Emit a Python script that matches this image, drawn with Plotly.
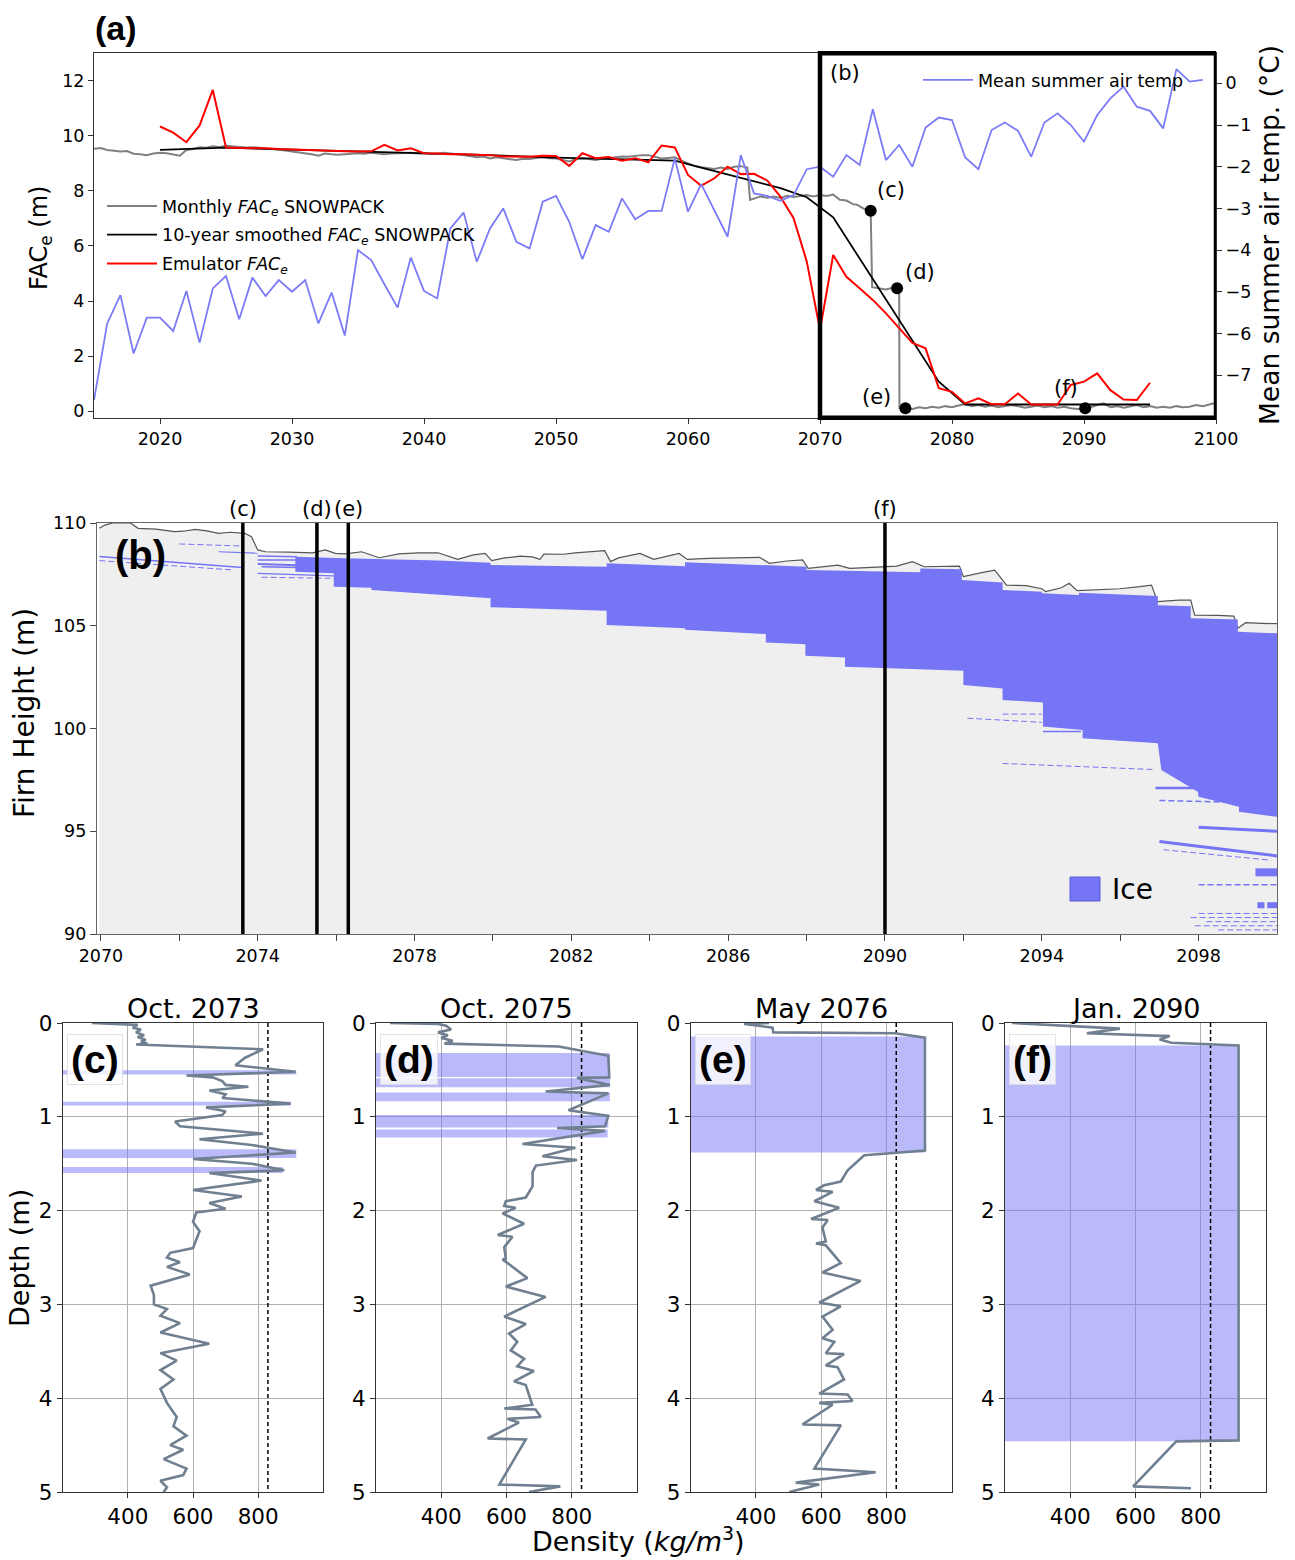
import plotly.graph_objects as go

W, H = 1295, 1560
FONT = "DejaVu Sans"
BOLD = "Liberation Sans"


def px(x):
    return x / W


def py(y):
    return 1 - y / H


# ---------------- Panel (a) data ----------------
temp_years = list(range(2015, 2100))
temp_vals = [-7.6, -5.76, -5.08, -6.48, -5.62, -5.62, -5.94, -4.98, -6.22, -4.92,
             -4.62, -5.66, -4.66, -5.10, -4.72, -5.00, -4.72, -5.76, -5.02, -6.05,
             -4.00, -4.24, -4.82, -5.38, -4.18, -4.98, -5.16, -3.48, -3.10, -4.28,
             -3.48, -3.00, -3.80, -3.96, -2.84, -2.70, -3.32, -4.22, -3.40, -3.56,
             -2.76, -3.26, -3.06, -3.06, -1.80, -3.08, -2.42, -3.05, -3.68, -1.72,
             -2.64, -2.70, -2.82, -2.68, -2.06, -2.00, -2.24, -1.72, -1.96, -0.62,
             -1.84, -1.48, -2.00, -1.06, -0.82, -0.88, -1.78, -2.06, -1.12, -0.94,
             -1.14, -1.76, -0.94, -0.72, -1.00, -1.40, -0.76, -0.36, -0.08, -0.56,
             -0.66, -1.08, 0.34, 0.04, 0.08]

emu_years = list(range(2020, 2096))
emu_vals = [10.34, 10.12, 9.77, 10.38, 11.67, 9.58, 9.56, 9.56, 9.55, 9.52,
            9.50, 9.48, 9.46, 9.45, 9.44, 9.43, 9.44, 9.67, 9.47, 9.55,
            9.37, 9.36, 9.33, 9.33, 9.31, 9.30, 9.25, 9.25, 9.24, 9.28,
            9.27, 8.91, 9.37, 9.19, 9.23, 9.10, 9.19, 9.04, 9.65, 9.58,
            8.58, 8.19, 8.46, 8.88, 8.61, 8.62, 8.38, 7.79, 7.01, 5.43,
            2.95, 5.67, 4.88, 4.46, 4.04, 3.55, 3.01, 2.48, 2.28, 0.83,
            0.70, 0.28, 0.46, 0.25, 0.25, 0.64, 0.24, 0.24, 0.24, 0.95,
            1.07, 1.37, 0.76, 0.42, 0.40, 1.03]

smooth_years = [2020, 2025, 2030, 2035, 2040, 2045, 2050, 2055, 2059, 2061, 2063,
                2065, 2067, 2069, 2070, 2071, 2079, 2081, 2095]
smooth_vals = [9.49, 9.57, 9.50, 9.44, 9.38, 9.30, 9.21, 9.15, 9.10, 8.85, 8.60,
               8.35, 8.10, 7.77, 7.40, 7.04, 1.07, 0.24, 0.24]

monthly_t = [2015.0, 2015.5, 2016.0, 2016.5, 2017.0, 2017.5, 2018.0, 2018.5, 2019.0, 2019.5,
             2020.0, 2020.5, 2021.0, 2021.5, 2022.0, 2022.5, 2023.0, 2023.5, 2024.0, 2024.5,
             2025.0, 2025.5, 2026.0, 2026.5, 2027.0, 2027.5, 2028.0, 2028.5, 2029.0, 2029.5,
             2030.0, 2030.5, 2031.0, 2031.5, 2032.0, 2032.5, 2033.0, 2033.5, 2034.0, 2034.5,
             2035.0, 2035.5, 2036.0, 2036.5, 2037.0, 2037.5, 2038.0, 2038.5, 2039.0, 2039.5,
             2040.0, 2040.5, 2041.0, 2041.5, 2042.0, 2042.5, 2043.0, 2043.5, 2044.0, 2044.5,
             2045.0, 2045.5, 2046.0, 2046.5, 2047.0, 2047.5, 2048.0, 2048.5, 2049.0, 2049.5,
             2050.0, 2050.5, 2051.0, 2051.5, 2052.0, 2052.5, 2053.0, 2053.5, 2054.0, 2054.5,
             2055.0, 2055.5, 2056.0, 2056.5, 2057.0, 2057.5, 2058.0, 2058.5, 2059.0, 2059.5,
             2060.0, 2060.5, 2061.0, 2061.5, 2062.0, 2062.5, 2063.0, 2063.5, 2064.0, 2064.5,
             2064.7, 2065.0, 2065.5, 2066.0, 2066.5, 2067.0, 2067.5, 2068.0, 2068.5, 2069.0,
             2069.5, 2070.0, 2070.5, 2071.0, 2071.5, 2072.0, 2072.5, 2072.8, 2073.3, 2073.84,
             2073.95, 2074.5, 2075.0, 2075.5, 2075.84, 2076.0, 2076.02, 2076.47, 2077.0, 2077.5,
             2078.0, 2078.5, 2079.0, 2079.5, 2080.0, 2080.5, 2081.0, 2081.5, 2082.0, 2082.5,
             2083.0, 2083.5, 2084.0, 2084.5, 2085.0, 2085.5, 2086.0, 2086.5, 2087.0, 2087.5,
             2088.0, 2088.5, 2089.0, 2089.5, 2090.0, 2090.5, 2091.0, 2091.5, 2092.0, 2092.5,
             2093.0, 2093.5, 2094.0, 2094.5, 2095.0, 2095.5, 2096.0, 2096.5, 2097.0, 2097.5,
             2098.0, 2098.5, 2099.0, 2099.5, 2100.0]
monthly_v = [9.53, 9.56, 9.49, 9.47, 9.43, 9.45, 9.35, 9.33, 9.30, 9.36,
             9.39, 9.37, 9.33, 9.28, 9.49, 9.52, 9.59, 9.57, 9.62, 9.60,
             9.64, 9.62, 9.62, 9.58, 9.59, 9.57, 9.55, 9.52, 9.49, 9.47,
             9.43, 9.40, 9.37, 9.33, 9.28, 9.36, 9.33, 9.31, 9.33, 9.36,
             9.37, 9.35, 9.39, 9.36, 9.33, 9.36, 9.37, 9.40, 9.39, 9.36,
             9.37, 9.34, 9.35, 9.39, 9.37, 9.33, 9.30, 9.26, 9.22, 9.25,
             9.18, 9.22, 9.18, 9.15, 9.12, 9.17, 9.16, 9.20, 9.22, 9.19,
             9.18, 9.12, 9.07, 9.15, 9.18, 9.16, 9.12, 9.17, 9.18, 9.22,
             9.25, 9.24, 9.27, 9.30, 9.30, 9.24, 9.18, 9.20, 9.22, 9.10,
             9.00, 8.90, 8.86, 8.82, 8.80, 8.85, 8.80, 8.88, 8.90, 8.85,
             7.67, 7.72, 7.80, 7.75, 7.80, 7.74, 7.82, 7.78, 7.82, 7.85,
             7.80, 7.85, 7.82, 7.87, 7.68, 7.65, 7.52, 7.50, 7.36, 7.28,
             4.50, 4.47, 4.42, 4.48, 4.46, 4.46, 0.12, 0.10, 0.08, 0.14,
             0.10, 0.16, 0.12, 0.18, 0.14, 0.20, 0.26, 0.18, 0.22, 0.16,
             0.20, 0.14, 0.18, 0.22, 0.18, 0.12, 0.16, 0.20, 0.14, 0.18,
             0.12, 0.16, 0.10, 0.08, 0.10, 0.14, 0.22, 0.28, 0.14, 0.18,
             0.12, 0.18, 0.22, 0.14, 0.18, 0.12, 0.16, 0.12, 0.18, 0.14,
             0.16, 0.22, 0.18, 0.24, 0.30]

profile_labels = ["(c)", "(d)", "(e)", "(f)"]
marker_years = [2073.84, 2075.84, 2076.47, 2090.09]
marker_fac = [7.28, 4.46, 0.10, 0.10]

# ---------------- Panel (b) data ----------------
surf_t = [2069.96, 2070.1, 2070.3, 2070.75, 2070.95, 2071.4, 2071.88, 2072.1, 2072.4, 2072.7,
          2073.0, 2073.3, 2073.67, 2073.84, 2074.0, 2074.2, 2074.8, 2075.4, 2075.72, 2075.98,
          2076.23, 2076.65, 2077.1, 2077.6, 2078.1, 2078.6, 2079.1, 2079.5, 2079.8, 2079.97,
          2080.3, 2080.7, 2081.0, 2081.2, 2081.3, 2081.8, 2082.1, 2082.85, 2083.0, 2083.2,
          2083.75, 2084.1, 2084.75, 2084.96, 2085.5, 2086.3, 2086.8, 2087.05, 2087.5, 2087.9,
          2088.04, 2088.8, 2089.1, 2089.8, 2090.3, 2090.7, 2091.0, 2091.9, 2092.0, 2092.5,
          2092.8, 2093.1, 2093.6, 2094.0, 2094.1, 2094.5, 2094.7, 2094.9, 2095.5, 2096.0,
          2096.5, 2096.8, 2096.95, 2097.5, 2097.8, 2097.9, 2098.5, 2098.9, 2099.0, 2099.2,
          2099.6, 2100.0]
surf_h = [109.74, 109.9, 110.0, 110.0, 109.74, 109.7, 109.58, 109.6, 109.69, 109.62,
          109.5, 109.55, 109.5, 109.33, 108.69, 108.6, 108.58, 108.55, 108.69, 108.52,
          108.5, 108.6, 108.31, 108.5, 108.55, 108.55, 108.23, 108.45, 108.52, 108.17,
          108.3, 108.39, 108.35, 108.23, 108.49, 108.48, 108.55, 108.65, 108.12, 108.3,
          108.52, 108.23, 108.52, 108.23, 108.28, 108.3, 108.33, 108.04, 108.15, 108.2,
          107.79, 107.95, 107.79, 107.85, 107.9, 108.12, 107.87, 107.9, 107.39, 107.6,
          107.71, 106.98, 106.95, 106.8, 106.66, 106.85, 107.07, 106.71, 106.75, 106.8,
          106.9, 106.98, 106.17, 106.25, 106.25, 105.52, 105.5, 105.47, 104.88, 105.15,
          105.12, 105.1]

ice_top_t = [2074.96, 2076.23, 2078.6, 2079.94, 2079.94, 2082.9, 2082.9, 2084.9, 2084.9,
             2086.9, 2088.0, 2088.0, 2089.1, 2090.9, 2090.9, 2091.96, 2091.96, 2093.0,
             2093.0, 2094.0, 2094.0, 2094.95, 2094.95, 2096.96, 2096.96, 2097.8, 2097.8,
             2099.0, 2099.0, 2100.0]
ice_top_h = [108.36, 108.28, 108.17, 108.07, 107.96, 107.87, 108.04, 107.90, 108.09,
             107.96, 107.87, 107.71, 107.66, 107.60, 107.79, 107.75, 107.23, 107.10,
             106.74, 106.66, 106.58, 106.50, 106.60, 106.45, 106.00, 105.95, 105.36,
             105.30, 104.71, 104.63]
ice_bot_t = [2074.96, 2075.94, 2075.94, 2076.9, 2076.9, 2078.6, 2079.94, 2079.94, 2082.9,
             2082.9, 2084.9, 2084.9, 2086.96, 2086.96, 2087.97, 2087.97, 2088.98, 2088.98,
             2092.0, 2092.0, 2093.0, 2093.0, 2094.03, 2094.03, 2095.04, 2095.04, 2096.96,
             2097.05, 2097.98, 2098.0, 2099.03, 2099.03, 2100.0]
ice_bot_h = [107.63, 107.55, 106.90, 106.85, 106.74, 106.53, 106.34, 105.90, 105.73,
             105.04, 104.88, 104.80, 104.60, 104.19, 104.10, 103.54, 103.45, 103.00,
             102.81, 102.12, 101.95, 101.39, 101.26, 100.10, 99.93, 99.52, 99.28,
             97.98, 96.92, 96.68, 96.19, 95.95, 95.70]

# thin ice lenses: start time, end time, start height, end height, thickness, dashed
lens_t0 = [2069.96, 2069.96, 2072.0, 2073.0, 2074.0, 2074.0, 2074.0, 2074.1, 2074.0, 2074.1,
           2092.1, 2093.0, 2094.03, 2093.0, 2096.9, 2097.0, 2098.0, 2097.0, 2097.1, 2099.45,
           2098.0, 2099.5, 2099.75, 2098.0, 2097.8, 2098.2, 2097.9, 2098.5]
lens_t1 = [2073.6, 2073.4, 2073.6, 2074.0, 2075.0, 2075.0, 2075.0, 2076.0, 2076.3, 2076.3,
           2094.0, 2094.0, 2095.0, 2096.9, 2097.98, 2099.0, 2100.0, 2100.0, 2099.8, 2100.0,
           2100.0, 2099.68, 2100.0, 2100.0, 2100.0, 2100.0, 2100.0, 2100.0]
lens_h0 = [108.37, 108.17, 108.98, 108.60, 108.39, 108.20, 108.00, 107.87, 107.55, 107.36,
           100.50, 100.70, 99.85, 98.30, 97.10, 96.50, 95.20, 94.50, 94.10, 93.00,
           92.40, 91.40, 91.40, 91.00, 90.80, 90.60, 90.40, 90.20]
lens_h1 = [107.84, 107.71, 108.88, 108.53, 108.36, 108.20, 107.95, 107.80, 107.40, 107.30,
           100.30, 100.70, 99.85, 98.00, 97.10, 96.40, 95.00, 93.80, 93.60, 93.00,
           92.40, 91.40, 91.40, 91.00, 90.80, 90.60, 90.40, 90.20]
lens_w = [1.5, 1.0, 1.0, 1.2, 1.5, 1.5, 2.0, 1.5, 1.2, 1.0,
          1.0, 1.0, 1.5, 1.0, 2.5, 1.5, 3.0, 3.0, 1.0, 8.0,
          1.5, 6.0, 6.0, 1.0, 1.0, 1.0, 1.0, 1.0]
lens_dash = [False, True, True, False, False, False, False, False, False, True,
             True, True, False, True, False, True, False, False, True, False,
             True, False, False, True, True, True, True, True]

line_years_b = [2073.62, 2075.51, 2076.31, 2090.0]

# ---------------- Panels (c)-(f) data ----------------
profile_titles = ["Oct. 2073", "Oct. 2075", "May 2076", "Jan. 2090"]
ICE_DENSITY = 830

prof_c_depth = [0.00, 0.02, 0.05, 0.07, 0.10, 0.13, 0.15, 0.18, 0.20, 0.22, 0.23, 0.25, 0.28,
                0.37, 0.45, 0.52, 0.56, 0.58, 0.62, 0.66, 0.68, 0.72, 0.76, 0.80, 0.86, 0.90,
                0.94, 0.98, 1.05, 1.10, 1.18, 1.24, 1.30, 1.38, 1.45, 1.50, 1.57, 1.60, 1.68,
                1.78, 1.85, 1.92, 1.98, 2.02, 2.12, 2.22, 2.40, 2.45, 2.50, 2.55, 2.60, 2.68,
                2.80, 2.90, 3.00, 3.05, 3.12, 3.20, 3.30, 3.42, 3.52, 3.60, 3.70, 3.80, 3.90,
                4.05, 4.20, 4.30, 4.40, 4.50, 4.55, 4.65, 4.75, 4.82, 4.88, 4.95, 5.00]
prof_c_rho = [290, 430, 415, 440, 425, 450, 430, 455, 440, 460, 425, 600, 815,
              760, 730, 915, 580, 660, 690, 700, 770, 650, 700, 690, 900, 640,
              700, 690, 545, 560, 815, 620, 780, 915, 600, 780, 880, 650, 810,
              600, 750, 650, 700, 610, 600, 620, 600, 530, 520, 560, 520, 590,
              470, 480, 480, 520, 500, 560, 500, 650, 500, 550, 500, 540, 500,
              520, 550, 540, 580, 530, 570, 510, 580, 570, 500, 520, 510]
prof_d_depth = [0.00, 0.01, 0.03, 0.07, 0.10, 0.13, 0.16, 0.19, 0.22, 0.25, 0.35, 0.58, 0.585,
                0.66, 0.73, 0.75, 0.93, 0.99, 1.10, 1.12, 1.15, 1.29, 1.33, 1.42, 1.46, 1.52,
                1.59, 1.74, 1.86, 1.90, 1.95, 1.97, 2.03, 2.14, 2.26, 2.28, 2.39, 2.51, 2.52,
                2.72, 2.81, 2.92, 3.13, 3.21, 3.31, 3.40, 3.49, 3.58, 3.66, 3.71, 3.82, 3.86,
                4.07, 4.11, 4.12, 4.20, 4.22, 4.26, 4.43, 4.44, 4.92, 4.94, 5.00]
prof_d_rho = [243, 390, 415, 430, 390, 420, 400, 435, 410, 760, 912, 915, 816,
              917, 720, 912, 790, 912, 902, 755, 902, 649, 811, 710, 816, 690,
              680, 680, 659, 598, 593, 628, 588, 654, 573, 618, 593, 598, 588,
              664, 598, 720, 593, 659, 608, 633, 613, 654, 633, 684, 623, 659,
              679, 593, 689, 705, 603, 638, 542, 659, 578, 765, 669]
prof_e_depth = [0.00, 0.01, 0.05, 0.10, 0.11, 0.156, 1.36, 1.41, 1.57, 1.69, 1.73, 1.78, 1.80,
                1.90, 1.97, 2.09, 2.10, 2.18, 2.33, 2.35, 2.37, 2.56, 2.66, 2.75, 2.98, 3.02,
                3.13, 3.27, 3.36, 3.40, 3.52, 3.53, 3.65, 3.67, 3.80, 3.95, 3.96, 4.03, 4.05,
                4.07, 4.28, 4.29, 4.75, 4.79, 4.90, 4.92, 5.00]
prof_e_rho = [440, 364, 451, 453, 826, 918, 918, 732, 681, 660, 609, 584, 635,
              579, 655, 569, 620, 604, 614, 584, 614, 660, 604, 721, 594, 660,
              604, 635, 604, 640, 614, 670, 614, 650, 670, 594, 681, 696, 594,
              635, 543, 660, 579, 767, 522, 594, 502]
prof_f_depth = [0.00, 0.06, 0.11, 0.14, 0.175, 0.21, 0.24, 4.45, 4.46, 4.94, 4.96]
prof_f_rho = [222, 552, 451, 705, 674, 710, 916, 916, 725, 593, 770]

# ice bands: top depth, bottom depth, right extent (density)
band_c_top = [0.505, 0.84, 1.345, 1.535]
band_c_bot = [0.550, 0.88, 1.440, 1.600]
band_c_right = [917, 900, 917, 875]
band_d_top = [0.32, 0.59, 0.74, 0.98, 1.135]
band_d_bot = [0.575, 0.685, 0.835, 1.115, 1.22]
band_d_right = [917, 917, 917, 912, 910]
band_e_top = [0.145]
band_e_bot = [1.38]
band_e_right = [918]
band_f_top = [0.24]
band_f_bot = [4.46]
band_f_right = [917]

profiles = [
    (prof_c_depth, prof_c_rho, band_c_top, band_c_bot, band_c_right),
    (prof_d_depth, prof_d_rho, band_d_top, band_d_bot, band_d_right),
    (prof_e_depth, prof_e_rho, band_e_top, band_e_bot, band_e_right),
    (prof_f_depth, prof_f_rho, band_f_top, band_f_bot, band_f_right),
]
RHO_MIN, RHO_MAX = 200, 1000

# ---------------- Colours ----------------
ICE_COLOR = "#7575f5"
TEMP_COLOR = "#7b7bf7"
FIRN_COLOR = "#efefef"
PROFILE_COLOR = "#708090"
BAND_COLOR = "rgba(117,117,245,0.5)"

fig = go.Figure()

# ---------------- Panel (a) traces ----------------
fig.add_trace(go.Scatter(x=monthly_t, y=monthly_v, mode="lines", xaxis="x", yaxis="y",
                         line=dict(color="#808080", width=2), legendgroup="g1",
                         name="Monthly <i>FAC<sub>e</sub></i> SNOWPACK", legend="legend"))
fig.add_trace(go.Scatter(x=smooth_years, y=smooth_vals, mode="lines", xaxis="x", yaxis="y",
                         line=dict(color="black", width=1.8), legendgroup="g2",
                         name="10-year smoothed <i>FAC<sub>e</sub></i> SNOWPACK", legend="legend"))
fig.add_trace(go.Scatter(x=emu_years, y=emu_vals, mode="lines", xaxis="x", yaxis="y",
                         line=dict(color="red", width=2), legendgroup="g3",
                         name="Emulator <i>FAC<sub>e</sub></i>", legend="legend"))
fig.add_trace(go.Scatter(x=marker_years, y=marker_fac, mode="markers", xaxis="x", yaxis="y",
                         marker=dict(color="black", size=12), showlegend=False))
fig.add_trace(go.Scatter(x=temp_years, y=temp_vals, mode="lines", xaxis="x", yaxis="y2",
                         line=dict(color=TEMP_COLOR, width=1.8),
                         name="Mean summer air temp", legend="legend2"))

# ---------------- Panel (b) traces ----------------
fig.add_trace(go.Scatter(x=surf_t, y=surf_h, mode="lines", xaxis="x2", yaxis="y3",
                         fill="tozeroy", fillcolor=FIRN_COLOR,
                         line=dict(color="#555555", width=1.2), showlegend=False))
fig.add_trace(go.Scatter(x=ice_top_t + ice_bot_t[::-1], y=ice_top_h + ice_bot_h[::-1],
                         mode="lines", fill="toself", fillcolor=ICE_COLOR,
                         line=dict(width=0, color=ICE_COLOR), xaxis="x2", yaxis="y3",
                         showlegend=False))
for t0, t1, h0, h1, w, d in zip(lens_t0, lens_t1, lens_h0, lens_h1, lens_w, lens_dash):
    fig.add_trace(go.Scatter(x=[t0, t1], y=[h0, h1], mode="lines", xaxis="x2", yaxis="y3",
                             line=dict(color=ICE_COLOR, width=w, dash="6px,3px" if d else "solid"),
                             showlegend=False))
vx, vy = [], []
for t in line_years_b:
    vx += [t, t, None]
    vy += [90, 110, None]
fig.add_trace(go.Scatter(x=vx, y=vy, mode="lines", xaxis="x2", yaxis="y3",
                         line=dict(color="black", width=3.5), showlegend=False))

# ---------------- Panels (c)-(f) traces ----------------
for i, (dep, rho, btop, bbot, bright) in enumerate(profiles):
    xa = "x%d" % (3 + i)
    ya = "y%d" % (4 + i)
    bx, by = [], []
    for tp, bt, r in zip(btop, bbot, bright):
        bx += [RHO_MIN, r, r, RHO_MIN, RHO_MIN, None]
        by += [tp, tp, bt, bt, tp, None]
    fig.add_trace(go.Scatter(x=bx, y=by, mode="lines", fill="toself", fillcolor=BAND_COLOR,
                             line=dict(width=0, color=BAND_COLOR), xaxis=xa, yaxis=ya,
                             showlegend=False))
    fig.add_trace(go.Scatter(x=[ICE_DENSITY, ICE_DENSITY], y=[0, 5], mode="lines",
                             line=dict(color="black", width=1.5, dash="4px,3px"),
                             xaxis=xa, yaxis=ya, showlegend=False))
    fig.add_trace(go.Scatter(x=rho, y=dep, mode="lines", line=dict(color=PROFILE_COLOR, width=2.6),
                             xaxis=xa, yaxis=ya, showlegend=False))

# ---------------- Layout ----------------
tickfont_a = dict(family=FONT, size=17.5, color="black")
layout = dict(
    template="none",
    width=W, height=H, margin=dict(l=0, r=0, t=0, b=0, pad=0), autosize=False,
    paper_bgcolor="white", plot_bgcolor="white",
    font=dict(family=FONT, color="black"),
    xaxis=dict(domain=[px(94), px(1216)], range=[2015, 2100], tickvals=list(range(2020, 2101, 10)),
               ticks="outside", ticklen=5, tickcolor="#333", showline=True, linecolor="#333",
               mirror=True, showgrid=False, zeroline=False, tickfont=tickfont_a, anchor="y",
               automargin=False),
    yaxis=dict(domain=[py(417.7), py(53.3)], range=[-0.24, 13.0], tickvals=list(range(0, 13, 2)),
               ticks="outside", ticklen=5, tickcolor="#333", showline=True, linecolor="#333",
               showgrid=False, zeroline=False, tickfont=tickfont_a, anchor="x", automargin=False),
    yaxis2=dict(overlaying="y", side="right", range=[-8.02, 0.72], tickvals=list(range(-7, 1)),
                ticktext=["\u22127", "\u22126", "\u22125", "\u22124", "\u22123", "\u22122", "\u22121", "0"],
                ticks="outside", ticklen=5, tickcolor="#333", showline=True, linecolor="#333",
                showgrid=False, zeroline=False, tickfont=tickfont_a, anchor="x", automargin=False),
    xaxis2=dict(domain=[px(97), px(1277)], range=[2069.9, 2100],
                tickvals=list(range(2070, 2100, 2)),
                ticktext=[str(v) if (v - 2070) % 4 == 0 else "" for v in range(2070, 2100, 2)],
                ticks="outside", ticklen=6, tickcolor="#444", showline=True, linecolor="#666",
                linewidth=1.3, mirror=True, showgrid=False, zeroline=False, tickfont=tickfont_a,
                anchor="y3", automargin=False),
    yaxis3=dict(domain=[py(934), py(523)], range=[90, 110], tickvals=[90, 95, 100, 105, 110],
                ticks="outside", ticklen=6, tickcolor="#444", showline=True, linecolor="#666",
                linewidth=1.3, mirror=True, showgrid=False, zeroline=False, tickfont=tickfont_a,
                anchor="x2", automargin=False),
    legend=dict(x=px(102), y=py(188), xanchor="left", yanchor="top", bgcolor="rgba(0,0,0,0)",
                tracegroupgap=3, itemwidth=50, font=dict(family=FONT, size=17.5, color="black")),
    legend2=dict(x=px(918), y=py(62), xanchor="left", yanchor="top", bgcolor="rgba(0,0,0,0)",
                 itemwidth=50, font=dict(family=FONT, size=17.5, color="black")),
)

bottom_x = [(62.7, 323.3), (376, 637), (690.7, 951.7), (1005, 1266)]
for i, (x0, x1) in enumerate(bottom_x):
    layout["xaxis%d" % (3 + i)] = dict(
        domain=[px(x0), px(x1)], range=[RHO_MIN, RHO_MAX], tickvals=[400, 600, 800],
        ticks="outside", ticklen=5, tickcolor="#333", showline=True, linecolor="#333", mirror=True,
        showgrid=True, gridcolor="#b0b0b0", gridwidth=0.8, zeroline=False, automargin=False,
        tickfont=dict(family=FONT, size=21.5, color="black"), anchor="y%d" % (4 + i))
    layout["yaxis%d" % (4 + i)] = dict(
        domain=[py(1492), py(1023)], range=[5, 0], tickvals=[0, 1, 2, 3, 4, 5],
        ticks="outside", ticklen=5, tickcolor="#333", showline=True, linecolor="#333", mirror=True,
        showgrid=True, gridcolor="#b0b0b0", gridwidth=0.8, zeroline=False, automargin=False,
        tickfont=dict(family=FONT, size=21.5, color="black"), anchor="x%d" % (3 + i))

fig.update_layout(**layout)

annotations = []
shapes = []


def ann(text, x, y, size, family=FONT, angle=0, xanchor="center", yanchor="middle"):
    return dict(text=text, x=px(x), y=py(y), xref="paper", yref="paper", showarrow=False,
                textangle=angle, xanchor=xanchor, yanchor=yanchor,
                font=dict(family=family, size=size, color="black"))


# bold panel letters
annotations.append(ann("<b>(a)</b>", 116, 28, 34, BOLD))
annotations.append(ann("<b>(b)</b>", 140, 555, 40, BOLD))
# zoom box in panel (a)
shapes.append(dict(type="rect", xref="x", yref="y domain", x0=2070, x1=2100, y0=0, y1=1,
                   line=dict(color="black", width=4.5), layer="above"))
annotations.append(dict(text="(b)", x=2070, y=1, xref="x", yref="y domain", xanchor="left",
                        yanchor="top", xshift=8, yshift=-6, showarrow=False,
                        font=dict(family=FONT, size=21, color="black")))
# profile markers labels in panel (a)
lab_shift = [(20, 21), (23, 16), (-29, 11), (-19, 20)]
for lab, xv, yv, (dx, dy) in zip(profile_labels, marker_years, marker_fac, lab_shift):
    annotations.append(dict(text=lab, x=xv, y=yv, xref="x", yref="y", showarrow=False,
                            xanchor="center", yanchor="middle",
                            xshift=dx, yshift=dy, font=dict(family=FONT, size=21, color="black")))
# labels above vertical lines in panel (b)
for lab, t in zip(profile_labels, line_years_b):
    annotations.append(dict(text=lab, x=t, y=1, xref="x2", yref="y3 domain", yanchor="bottom",
                            xanchor="center", yshift=0, showarrow=False,
                            font=dict(family=FONT, size=21, color="black")))
# Ice legend in panel (b)
shapes.append(dict(type="rect", xref="paper", yref="paper", x0=px(1070), x1=px(1100),
                   y0=py(901), y1=py(877), fillcolor=ICE_COLOR, line=dict(color="#5a5ad0", width=1)))
annotations.append(ann("Ice", 1110, 889, 28, xanchor="left"))
# axis titles
annotations.append(ann("FAC<sub>e</sub> (m)", 40, 238, 24, angle=-90))
annotations.append(ann("Mean summer air temp. (\u00b0C)", 1269, 235, 26.5, angle=-90))
annotations.append(ann("Firn Height (m)", 25, 713, 28, angle=-90))
annotations.append(ann("Depth (m)", 19, 1258, 27, angle=-90))
annotations.append(ann("Density (<i>kg/m</i><sup>3</sup>)", 638, 1539, 27))
# bottom panel titles and letters
for i, (title, lab) in enumerate(zip(profile_titles, profile_labels)):
    annotations.append(dict(text=title, x=0.5, y=1, xref="x%d domain" % (3 + i),
                            yref="y%d domain" % (4 + i), xanchor="center", yanchor="bottom", yshift=-3,
                            showarrow=False, font=dict(family=FONT, size=27, color="black")))
    annotations.append(dict(text="<b>%s</b>" % lab, x=0, y=1, xref="x%d domain" % (3 + i),
                            yref="y%d domain" % (4 + i), xanchor="left", yanchor="top",
                            xshift=4, yshift=-11, showarrow=False, bgcolor="rgba(255,255,255,0.8)",
                            bordercolor="rgba(220,220,220,0.8)", borderpad=3,
                            font=dict(family=BOLD, size=39, color="black")))

fig.update_layout(annotations=annotations, shapes=shapes)
fig.write_html("out.html")
